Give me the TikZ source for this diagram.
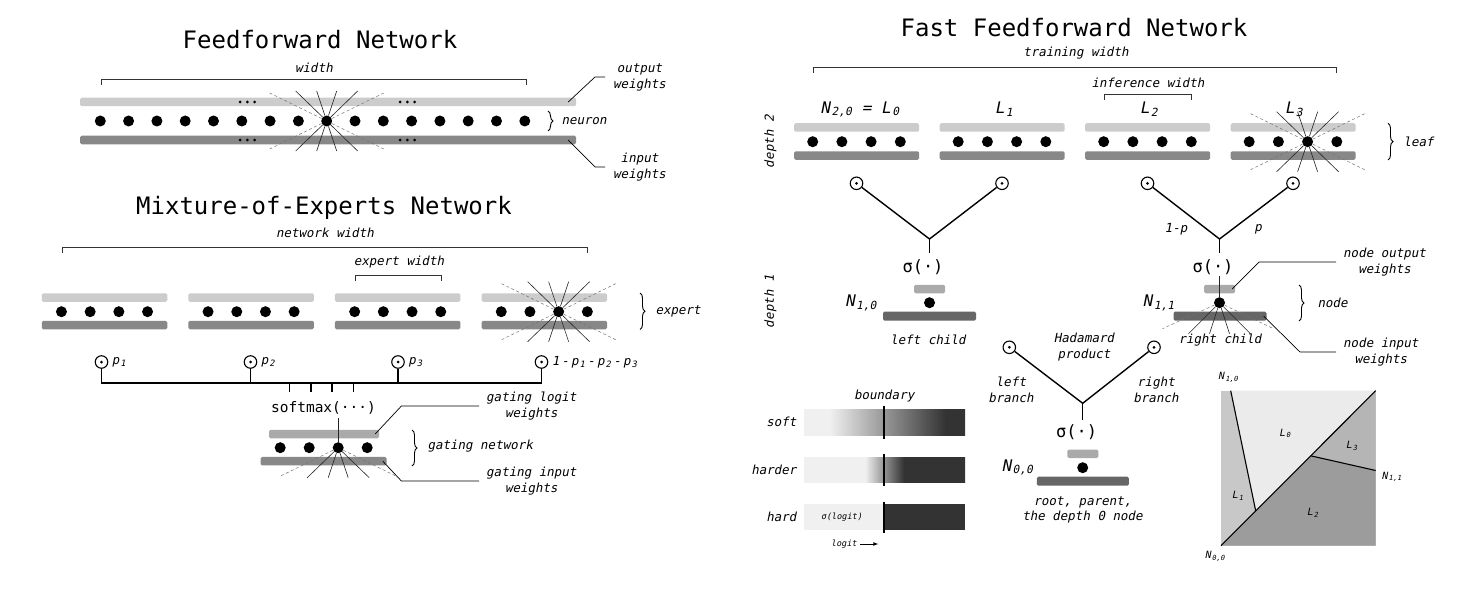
\documentclass[tikz,border=0pt]{standalone}
\usepackage{fontspec}
\newfontfamily\monofont{DejaVu Sans Mono}
\newfontfamily\slantfont{DejaVu Sans Mono}[FakeSlant=0.2]
\usetikzlibrary{positioning, decorations.pathreplacing}
\definecolor{barlight}{HTML}{CCCCCC}
\definecolor{barmid}{HTML}{AAAAAA}
\definecolor{bardark}{HTML}{888888}
\definecolor{barnode}{HTML}{666666}
\definecolor{gradlight}{HTML}{F0F0F0}
\definecolor{graddark}{HTML}{333333}
\definecolor{regzero}{HTML}{EBEBEB}
\definecolor{regone}{HTML}{C8C8C8}
\definecolor{regtwo}{HTML}{9C9C9C}
\definecolor{regthree}{HTML}{B5B5B5}
\pgfdeclarehorizontalshading{softgrad}{100bp}{color(0bp)=(gradlight); color(33bp)=(gradlight); color(69bp)=(graddark); color(100bp)=(graddark)}
\pgfdeclarehorizontalshading{hardergrad}{100bp}{color(0bp)=(gradlight); color(44bp)=(gradlight); color(56bp)=(graddark); color(100bp)=(graddark)}

\begin{document}
\begin{tikzpicture}[x=1pt, y=-1pt,
	title/.style={font=\monofont\fontsize{24}{24}\selectfont},
	lbl/.style={font=\slantfont\fontsize{12.5}{16}\selectfont, align=center},
	nlbl/.style={font=\slantfont\fontsize{16}{16}\selectfont},
	sq/.style={font=\slantfont\fontsize{10}{10}\selectfont},
	sig/.style={font=\monofont\fontsize{17}{17}\selectfont, inner sep=1pt},
	wbar/.style={rectangle, inner sep=0pt, minimum height=8.5pt, rounded corners=1.5pt},
	neuron/.style={circle, fill=black, inner sep=0pt, minimum size=11pt},
	gate/.style={circle, draw, line width=1.1pt, inner sep=0pt, minimum size=12.5pt, path picture={\fill (path picture bounding box.center) circle (1.5pt);}},
	ray/.style={line width=0.6pt, black!85},
	dray/.style={line width=0.5pt, black!55, dash pattern=on 3pt off 2.5pt},
	bracket/.style={line width=0.9pt, black!80},
	link/.style={line width=1.4pt},
	leader/.style={line width=0.7pt},
	curly/.style={decorate, decoration={brace, amplitude=5pt}, line width=0.9pt}]
	\fill[white] (0,0) rectangle (1469,591);
	\useasboundingbox (0,0) rectangle (1469,591);

	% feedforward network
	\node (ffT) at (320,40)[title]{Feedforward Network};
	\node (ffW) at (314,68)[lbl]{width};
	\draw[bracket] (101,85) -- (101,79) -- (526,79) -- (526,85);
	\node (ffO) at (328,102)[wbar, minimum width=496pt, fill=barlight]{};
	\node (ffI) at (328,140)[wbar, minimum width=496pt, fill=bardark]{};
	\foreach \x in {240,247.3,254.6,400,407.3,414.6} {\fill (\x,102) circle (1.5pt); \fill (\x,140) circle (1.5pt);}
	\foreach \i in {0,...,15} \node (f\i) at (100.3+28.3*\i,121)[neuron]{};
	\foreach \dx/\dy in {-31/-30,-10/-30,10/-30,31/-30,-31/30,-10/30,10/30,31/30} \draw[ray] (f8) -- ++(\dx,\dy);
	\foreach \dx/\dy in {-57/-28,57/-28,-57/28,57/28} \draw[dray] (f8) -- ++(\dx,\dy);
	\draw[curly] (548,111) -- (548,131);
	\node (ffN) at (558,121)[lbl, anchor=west]{neuron};
	\node (ffOl) at (605,77)[lbl, anchor=west, inner xsep=8pt]{output\\weights};
	\node (ffIl) at (605,167)[lbl, anchor=west, inner xsep=8pt]{input\\weights};
	\draw[leader] ([xshift=-8pt]ffO.east) -- (595,77) -- (ffOl.west);
	\draw[leader] ([xshift=-8pt]ffI.east) -- (595,167) -- (ffIl.west);

	% mixture of experts
	\node (moT) at (324,208)[title]{Mixture-of-Experts Network};
	\node (moW) at (325,232.5)[lbl]{network width};
	\draw[bracket] (62,253) -- (62,247) -- (587,247) -- (587,253);
	\node (moE) at (399,262.5)[lbl]{expert width};
	\draw[bracket] (355,281) -- (355,275) -- (441.5,275) -- (441.5,281);
	\foreach \k in {0,...,3} {
		\node (mO\k) at (104.5+146.6*\k,297.5)[wbar, minimum width=125.5pt, fill=barlight]{};
		\node (mI\k) at (104.5+146.6*\k,325)[wbar, minimum width=125.5pt, fill=bardark]{};
		\foreach \j in {0,...,3} \node (m\k\j) at (61.45+146.6*\k+28.7*\j,311.7)[neuron]{};
	}
	\foreach \dx/\dy in {-31/-30,-10/-30,10/-30,31/-30,-31/30,-10/30,10/30,31/30} \draw[ray] (m32) -- ++(\dx,\dy);
	\foreach \dx/\dy in {-57/-28,57/-28,-57/28,57/28} \draw[dray] (m32) -- ++(\dx,\dy);
	\draw[curly] (640,293) -- (640,329.5);
	\node (moX) at (652,311)[lbl, anchor=west]{expert};
	\node (g1) at (101.5,362)[gate]{};
	\node (g2) at (250.5,362)[gate]{};
	\node (g3) at (398,362)[gate]{};
	\node (g4) at (541.5,362)[gate]{};
	\node[right=0pt of g1, lbl]{p\kern1pt\textsubscript{1}};
	\node[right=0pt of g2, lbl]{p\kern1pt\textsubscript{2}};
	\node[right=0pt of g3, lbl]{p\kern1pt\textsubscript{3}};
	\node[right=0pt of g4, lbl]{1\,-\,p\kern1pt\textsubscript{1}\,-\,p\kern1pt\textsubscript{2}\,-\,p\kern1pt\textsubscript{3}};
	\coordinate (bus) at (320,383);
	\draw[link] (g1) |- (bus) -| (g4);
	\draw[link] (g2) -- (g2 |- bus);
	\draw[link] (g3) -- (g3 |- bus);
	\foreach \x in {289.7,310.9,332.1,353.3} \draw[link] (\x,383) -- (\x,392);
	\node (sm) at (323.5,408)[font=\monofont\fontsize{14.5}{14.5}\selectfont]{softmax(···)};
	\node (gO) at (324,434)[wbar, minimum width=110pt, fill=barmid]{};
	\node (gI) at (323.6,461.2)[wbar, minimum width=126pt, fill=bardark]{};
	\foreach \j in {0,...,3} \node (gd\j) at (280.2+29*\j,447.7)[neuron]{};
	\draw[ray] (gd2) -- (gd2 |- sm.south);
	\foreach \dx in {-31,-10,10,31} \draw[ray] (gd2) -- ++(\dx,30);
	\foreach \dx in {-57,57} \draw[dray] (gd2) -- ++(\dx,28);
	\draw[curly] (412,430) -- (412,466);
	\node (gN) at (424,446)[lbl, anchor=west]{gating network};
	\node (gOl) at (479,406)[lbl, anchor=west, inner xsep=7pt]{gating logit\\weights};
	\node (gIl) at (479,481)[lbl, anchor=west, inner xsep=7pt]{gating input\\weights};
	\draw[leader] ([xshift=-4pt]gO.east) -- (401.4,406) -- (gOl.west);
	\draw[leader] ([xshift=-4pt]gI.east) -- (401.4,481) -- (gIl.west);

	% fast feedforward network
	\node (fT) at (1074,28)[title]{Fast Feedforward Network};
	\node (fW) at (1076,53.3)[lbl]{training width};
	\draw[bracket] (813.5,73) -- (813.5,67.3) -- (1336,67.3) -- (1336,73);
	\node (fI) at (1148,82.7)[lbl]{inference width};
	\draw[bracket] (1104.5,100) -- (1104.5,94) -- (1191,94) -- (1191,100);
	\foreach \k in {0,...,3} {
		\node (lO\k) at (856.5+145.5*\k,127.5)[wbar, minimum width=125pt, fill=barlight]{};
		\node (lI\k) at (856.5+145.5*\k,155.5)[wbar, minimum width=125pt, fill=bardark]{};
		\foreach \j in {0,...,3} \node (l\k\j) at (812.7+145.5*\k+29.2*\j,141.7)[neuron]{};
		\node (c\k) at (856.5+145.5*\k,183.3)[gate]{};
	}
	\foreach \dx/\dy in {-31/-30,-10/-30,10/-30,31/-30,-31/30,-10/30,10/30,31/30} \draw[ray] (l32) -- ++(\dx,\dy);
	\foreach \dx/\dy in {-57/-28,57/-28,-57/28,57/28} \draw[dray] (l32) -- ++(\dx,\dy);
	\node (lab0) at (860,109.3)[nlbl]{N\kern1.5pt\textsubscript{2,0} = L\kern1.5pt\textsubscript{0}};
	\node (lab1) at (1004,109.3)[nlbl]{L\kern1.5pt\textsubscript{1}};
	\node (lab2) at (1149,109.3)[nlbl]{L\kern1.5pt\textsubscript{2}};
	\node (lab3) at (1294,109.3)[nlbl]{L\kern1.5pt\textsubscript{3}};
	\draw[curly] (1388,123.3) -- (1388,160);
	\node (lf) at (1400,141.7)[lbl, anchor=west]{leaf};
	\node (dp2) at (770.5,141.7)[lbl, rotate=90]{depth 2};
	\node (dp1) at (770.5,301.7)[lbl, rotate=90]{depth 1};

	% depth 1, left child
	\node (n10O) at (929.5,289)[wbar, minimum width=31pt, fill=barmid]{};
	\node (n10I) at (929.5,316.2)[wbar, minimum width=93pt, minimum height=9pt, fill=barnode]{};
	\node (n10) at (929.5,302.7)[neuron]{};
	\node (s10) at (923,267.3)[sig]{σ(·)};
	\coordinate (j10) at (929.5,239);
	\draw[link] (c0) -- (j10) -- (c1);
	\draw[link] (j10) -- ++(0,14);
	\node (n10l) at (861,302.7)[nlbl]{N\kern1.5pt\textsubscript{1,0}};
	\node (n10c) at (928,339.5)[lbl]{left child};

	% depth 1, right child
	\node (n11O) at (1219.5,289)[wbar, minimum width=31pt, fill=barmid]{};
	\node (n11I) at (1220,316.2)[wbar, minimum width=93pt, minimum height=9pt, fill=barnode]{};
	\node (n11) at (1219.5,302.7)[neuron]{};
	\node (s11) at (1213,267.3)[sig]{σ(·)};
	\coordinate (j11) at (1219.5,239);
	\draw[link] (c2) -- (j11) -- (c3);
	\draw[link] (j11) -- ++(0,14);
	\draw[ray] (n11) -- (n11 |- s11.south);
	\foreach \dx in {-31,-10,10,31} \draw[ray] (n11) -- ++(\dx,31);
	\foreach \dx in {-57,54} \draw[dray] (n11) -- ++(\dx,26);
	\node (pl) at (1176,229.3)[lbl]{1-p};
	\node (pr) at (1258,229.3)[lbl]{p};
	\node (n11l) at (1158.6,302.7)[nlbl]{N\kern1.5pt\textsubscript{1,1}};
	\node (n11c) at (1220,340)[lbl]{right child};
	\draw[curly] (1299,285) -- (1299,321);
	\node (nd) at (1314,302.7)[lbl, anchor=west]{node};
	\node (n11Ol) at (1336,262)[lbl, anchor=west, inner xsep=7pt]{node output\\weights};
	\node (n11Il) at (1336,352)[lbl, anchor=west, inner xsep=7pt]{node input\\weights};
	\draw[leader] ([xshift=-3pt]n11O.east) -- (1259,262) -- (n11Ol.west);
	\draw[leader] ([xshift=-3pt]n11I.east) -- (1300,352) -- (n11Il.west);

	% depth 0, root
	\node (c4) at (1009.3,347.3)[gate]{};
	\node (c5) at (1154,347.3)[gate]{};
	\node (n00O) at (1082.8,453.8)[wbar, minimum width=31pt, fill=barmid]{};
	\node (n00I) at (1082.9,481.2)[wbar, minimum width=92pt, minimum height=9pt, fill=barnode]{};
	\node (n00) at (1082.7,467.7)[neuron]{};
	\node (s00) at (1076.7,431.7)[sig]{σ(·)};
	\coordinate (j00) at (1082.7,403.3);
	\draw[link] (c4) -- (j00) -- (c5);
	\draw[link] (j00) -- ++(0,16.5);
	\node (n00l) at (1017.5,467.3)[nlbl]{N\kern1.5pt\textsubscript{0,0}};
	\node (n00c) at (1082.5,510.2)[lbl, font=\slantfont\fontsize{12.5}{15}\selectfont]{root, parent,\\the depth 0 node};
	\node (hp) at (1084,346.7)[lbl]{Hadamard\\product};
	\node (lb) at (1011,390.3)[lbl]{left\\branch};
	\node (rb) at (1156,390.3)[lbl]{right\\branch};

	% soft and hard boundary
	\node (bd) at (884.2,396)[lbl]{boundary};
	\shade[shading=softgrad] (804,409.3) rectangle (965,435);
	\draw[line width=1.6pt] (884,405.5) -- (884,438.5);
	\shade[shading=hardergrad] (804,457.3) rectangle (965,482.7);
	\draw[line width=1.6pt] (884,454) -- (884,486);
	\fill[gradlight] (804,504.3) rectangle (884,530);
	\fill[graddark] (884,504.3) rectangle (965,530);
	\draw[line width=1.6pt] (884,501.5) -- (884,533);
	\node (gs) at (800,422.2)[lbl, anchor=east]{soft};
	\node (gh) at (800,470)[lbl, anchor=east]{harder};
	\node (gx) at (800,517.2)[lbl, anchor=east]{hard};
	\node (gsl) at (841.7,517.5)[font=\slantfont\fontsize{8.5}{8.5}\selectfont]{σ(logit)};
	\node (lg) at (844,544)[font=\slantfont\fontsize{8.5}{8.5}\selectfont]{logit};
	\draw[-latex, line width=0.7pt] (lg.east) -- ++(18,0);

	% input space split
	\coordinate (sqTL) at (1221,390.7);
	\coordinate (sqTR) at (1375.7,390.7);
	\coordinate (sqBL) at (1221,545.7);
	\coordinate (sqBR) at (1375.7,545.7);
	\coordinate (p10) at (1230.7,390.7);
	\coordinate (q10) at (1255.7,510.9);
	\coordinate (q11) at (1310.7,455.8);
	\coordinate (p11) at (1375.7,470.5);
	\fill[regone] (sqTL) rectangle (sqBR);
	\fill[regzero] (p10) -- (sqTR) -- (q10) -- cycle;
	\fill[regtwo] (sqBL) -- (sqBR) -- (p11) -- (q11) -- cycle;
	\fill[regthree] (q11) -- (p11) -- (sqTR) -- cycle;
	\draw[line width=1.1pt] (sqBL) -- (sqTR);
	\draw[line width=1.1pt] (p10) -- (q10);
	\draw[line width=1.1pt] (q11) -- (p11);
	\node (sL0) at (1285,433.3)[sq]{L\kern1pt\textsubscript{0}};
	\node (sL1) at (1237.7,495.7)[sq]{L\kern1pt\textsubscript{1}};
	\node (sL2) at (1312.7,512.7)[sq]{L\kern1pt\textsubscript{2}};
	\node (sL3) at (1351.7,446)[sq]{L\kern1pt\textsubscript{3}};
	\node (sN10) at (1228.3,377.3)[sq]{N\kern1pt\textsubscript{1,0}};
	\node (sN11) at (1391.7,476.7)[sq]{N\kern1pt\textsubscript{1,1}};
	\node (sN00) at (1215,556.7)[sq]{N\kern1pt\textsubscript{0,0}};
\end{tikzpicture}
\end{document}
